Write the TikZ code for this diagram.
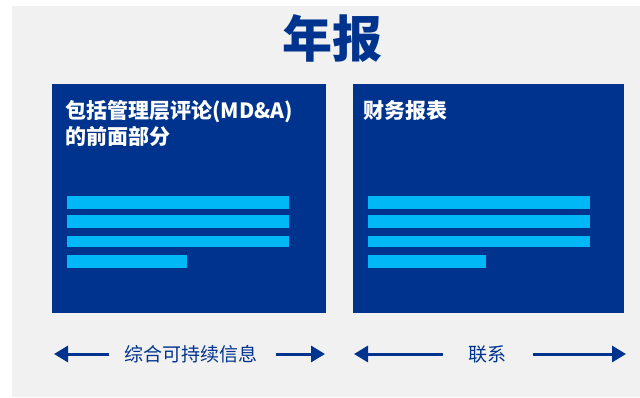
\documentclass[tikz,border=0pt]{standalone}
\usepackage{fontspec}
\setmainfont{Noto Sans CJK SC}
\usetikzlibrary{arrows.meta}
\definecolor{kdark}{HTML}{00338D}
\definecolor{klight}{HTML}{00B8F5}
\definecolor{kbg}{HTML}{F1F1F1}
\tikzset{
  panel/.style={fill=kdark, draw=none, anchor=north west, inner sep=0pt},
  bar/.style={fill=klight},
  boxtext/.style={text=white, anchor=base west, inner sep=0pt, align=left,
    font=\fontsize{21}{26}\selectfont\bfseries},
  lab/.style={text=kdark, anchor=base, inner sep=0pt, font=\fontsize{19}{22}\selectfont},
  arr/.style={draw=kdark, line width=3pt, -{Triangle[length=14pt,width=16pt]}},
}
\begin{document}
\begin{tikzpicture}[x=1pt,y=-1pt]
\useasboundingbox (0,0) rectangle (640,397);
\fill[kbg] (12,6) rectangle (640,397);
% title
\node[text=kdark, anchor=base, inner sep=0pt, font=\fontsize{50}{56}\selectfont\bfseries] (title) at (332,57) {年报};
% panels
\node[panel, minimum width=274pt, minimum height=229pt] (L) at (52,84) {};
\node[panel, minimum width=271pt, minimum height=229pt] (R) at (353,84) {};
% panel texts
\node[boxtext] (Lt1) at (65,118) {包括管理层评论(MD\&A)};
\node[boxtext] (Lt2) at (65,144) {的前面部分};
\node[boxtext] (Rt1) at (363,118) {财务报表};
% bars left
\fill[bar] (67,196) rectangle (289,208.7);
\fill[bar] (67,215) rectangle (289,227.7);
\fill[bar] (67,236) rectangle (289,246.7);
\fill[bar] (67,255) rectangle (187,267.7);
% bars right
\fill[bar] (368,196) rectangle (590,208.7);
\fill[bar] (368,215) rectangle (590,227.7);
\fill[bar] (368,236) rectangle (590,246.7);
\fill[bar] (368,255) rectangle (486,267.7);
% bottom labels
\node[lab] (lab1) at (191,361) {综合可持续信息};
\node[lab] (lab2) at (487,361) {联系};
\coordinate (a1s) at (109,354);
\coordinate (a1e) at (54,354);
\coordinate (a2s) at (275.5,354);
\coordinate (a2e) at (325,354);
\coordinate (a3s) at (443,354);
\coordinate (a3e) at (354,354);
\coordinate (a4s) at (533,354);
\coordinate (a4e) at (626,354);
\draw[arr] (a1s) -- (a1e);
\draw[arr] (a2s) -- (a2e);
\draw[arr] (a3s) -- (a3e);
\draw[arr] (a4s) -- (a4e);
\end{tikzpicture}
\end{document}
